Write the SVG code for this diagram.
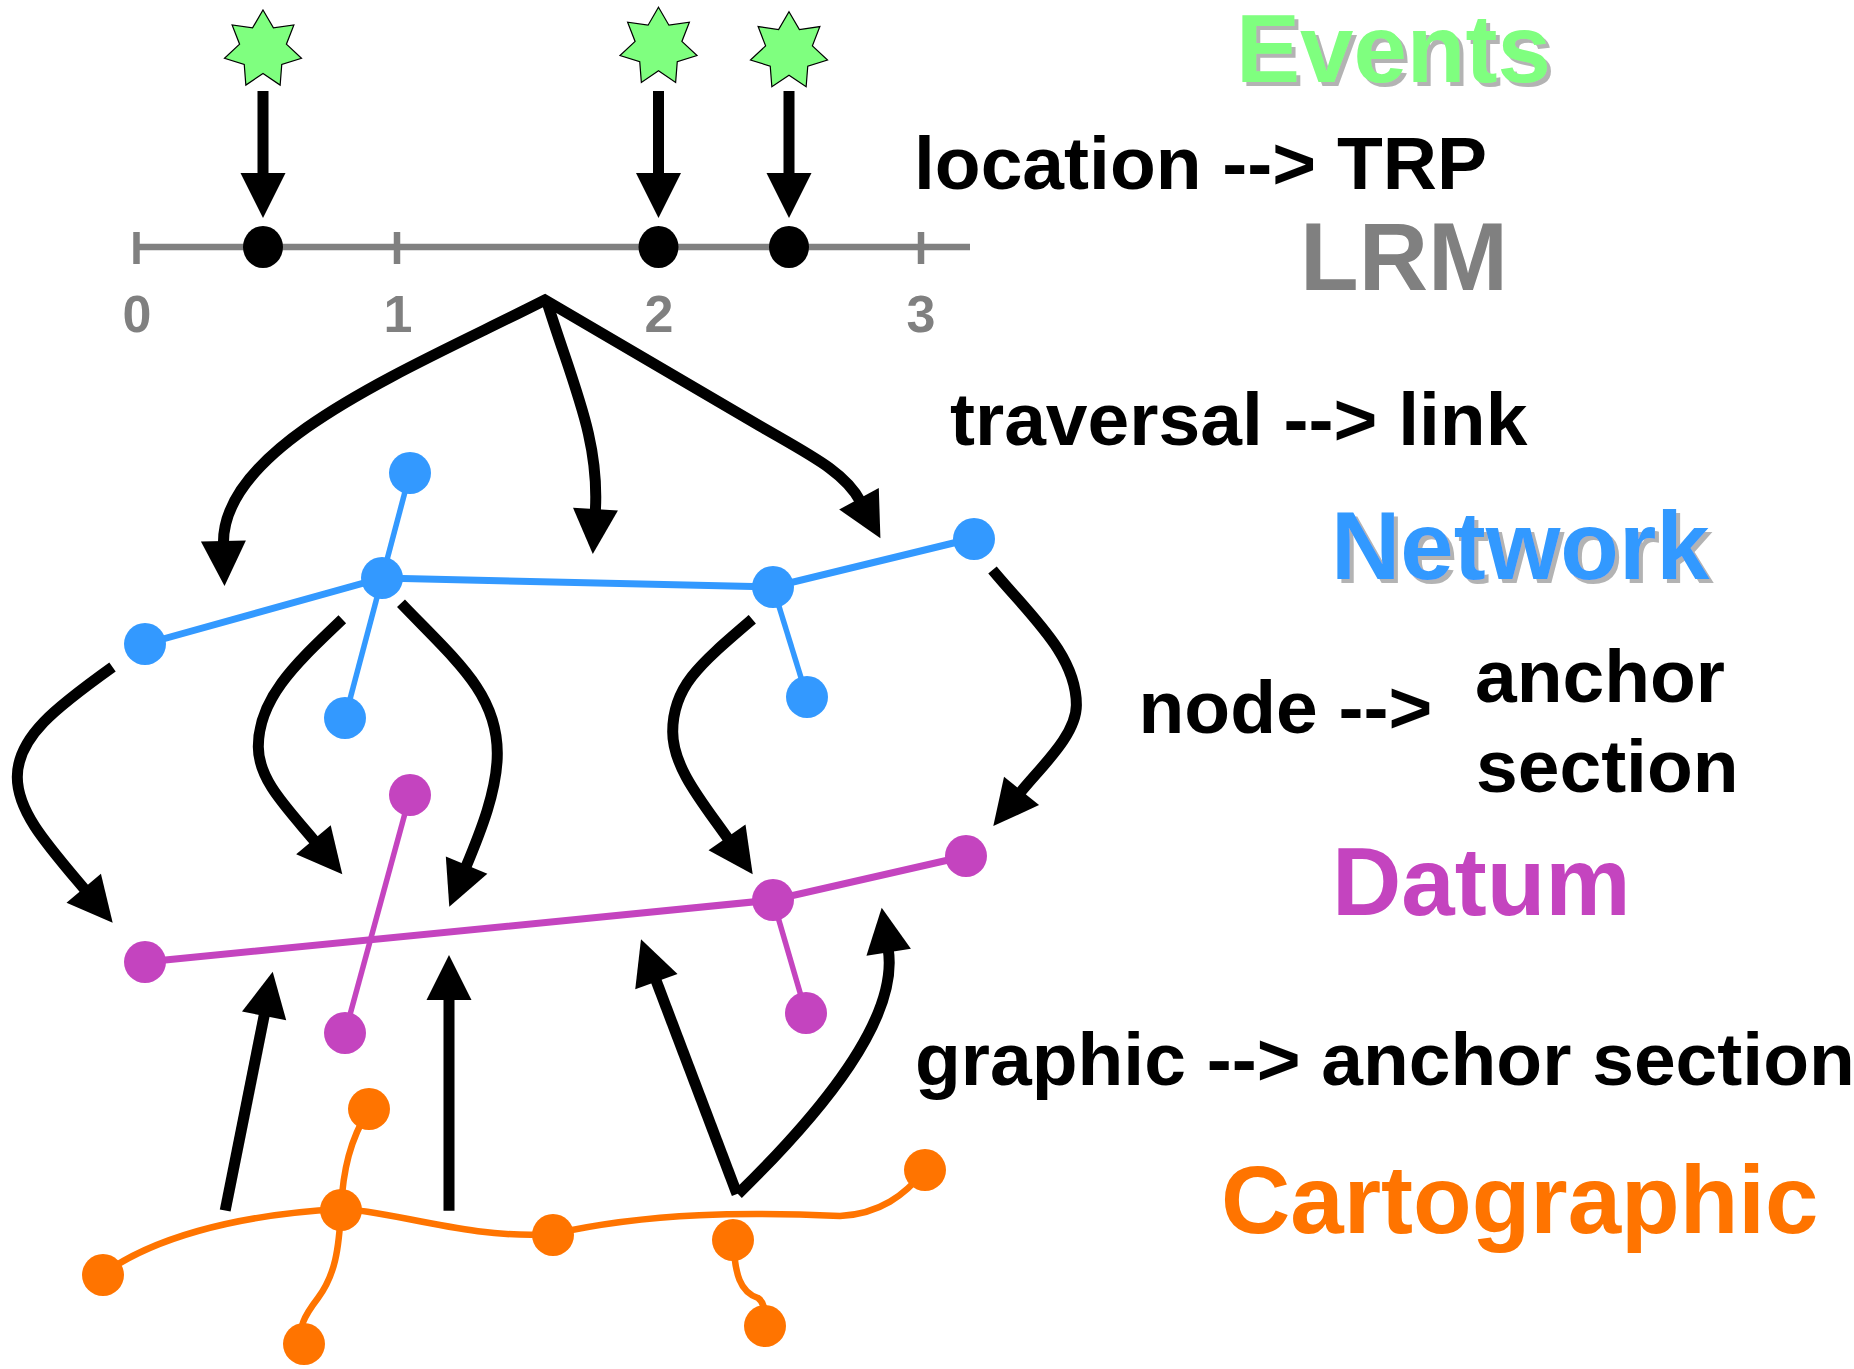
<svg xmlns="http://www.w3.org/2000/svg" width="1854" height="1369" viewBox="0 0 1854 1369">
  <style>
    .lbl { font-family: "Liberation Sans", Arial, sans-serif; font-weight: bold; }
    .t75 { font-size: 75px; fill: #000; }
    .big { font-size: 96px; }
    .num { font-size: 52px; fill: #808080; text-anchor: middle; }
    .conn { fill: none; stroke: #000; stroke-width: 11; stroke-linecap: butt; stroke-linejoin: miter; }
    .head { fill: #000; }
    .axis { stroke: #808080; stroke-width: 6.5; fill: none; }
    .net-main { stroke: #3399FF; stroke-width: 7; fill: none; }
    .net-spur { stroke: #3399FF; stroke-width: 5.5; fill: none; }
    .net-node { fill: #3399FF; }
    .dat-main { stroke: #C444BF; stroke-width: 7; fill: none; }
    .dat-spur { stroke: #C444BF; stroke-width: 5.5; fill: none; }
    .dat-node { fill: #C444BF; }
    .car-line { stroke: #FF7400; stroke-width: 6.5; fill: none; stroke-linecap: round; }
    .car-node { fill: #FF7400; }
    .event { fill: #7FFF7F; stroke: #000; stroke-width: 1.2; }
  </style>
  <defs>
    <!-- seven-pointed event marker -->
    <polygon id="star" points="0,-39.5 10.41,-21.62 30.88,-24.63 23.4,-5.34 38.51,8.79 18.76,14.96 17.14,35.59 0,24 -17.14,35.59 -18.76,14.96 -38.51,8.79 -23.4,-5.34 -30.88,-24.63 -10.41,-21.62"/>
    <!-- arrowhead, tip at origin, pointing along +x -->
    <path id="ah" d="M0,0 L-45,-22.5 L-45,22.5 Z"/>
    <filter id="shadow" x="-5%" y="-10%" width="115%" height="130%">
      <feOffset in="SourceAlpha" dx="4" dy="4" result="off"/>
      <feFlood flood-color="#B3B3B3"/>
      <feComposite in2="off" operator="in" result="sh"/>
      <feMerge><feMergeNode in="sh"/><feMergeNode in="SourceGraphic"/></feMerge>
    </filter>
  </defs>

  <rect width="1854" height="1369" fill="#fff"/>

  <!-- events -->
  <g id="events">
    <use href="#star" class="event" transform="translate(263,49.5)"/>
    <use href="#star" class="event" transform="translate(658.5,46.8)"/>
    <use href="#star" class="event" transform="translate(789,51.2)"/>
  </g>

  <!-- linear referencing axis -->
  <g id="lrm">
    <line class="axis" x1="136.5" y1="247" x2="970" y2="247"/>
    <line class="axis" x1="136.5" y1="232" x2="136.5" y2="264"/>
    <line class="axis" x1="397" y1="232" x2="397" y2="264"/>
    <line class="axis" x1="658.5" y1="232" x2="658.5" y2="264"/>
    <line class="axis" x1="921" y1="232" x2="921" y2="264"/>
    <text class="lbl num" x="137" y="332">0</text>
    <text class="lbl num" x="398" y="332">1</text>
    <text class="lbl num" x="659" y="332">2</text>
    <text class="lbl num" x="921" y="332">3</text>
    <ellipse cx="263" cy="247" rx="20" ry="21"/>
    <ellipse cx="658.5" cy="247" rx="20" ry="21"/>
    <ellipse cx="789" cy="247" rx="20" ry="21"/>
  </g>

  <!-- network layer -->
  <g id="network">
    <polyline class="net-main" points="145,644 382,578 773,587 974,538"/>
    <line class="net-spur" x1="410" y1="473" x2="345" y2="718"/>
    <line class="net-spur" x1="773" y1="587" x2="807" y2="697"/>
    <circle class="net-node" id="n1" cx="145" cy="644" r="21"/>
    <circle class="net-node" id="n2" cx="382" cy="578" r="21"/>
    <circle class="net-node" id="n3" cx="410" cy="473" r="21"/>
    <circle class="net-node" id="n4" cx="345" cy="718" r="21"/>
    <circle class="net-node" id="n5" cx="773" cy="587" r="21"/>
    <circle class="net-node" id="n6" cx="974" cy="539" r="21"/>
    <circle class="net-node" id="n7" cx="807" cy="697" r="21"/>
  </g>

  <!-- datum layer -->
  <g id="datum">
    <polyline class="dat-main" points="145,962 773,900 966,856"/>
    <line class="dat-spur" x1="410" y1="795" x2="345" y2="1033"/>
    <line class="dat-spur" x1="773" y1="900" x2="806" y2="1013"/>
    <circle class="dat-node" id="d1" cx="145" cy="962" r="21"/>
    <circle class="dat-node" id="d2" cx="410" cy="795" r="21"/>
    <circle class="dat-node" id="d3" cx="345" cy="1033" r="21"/>
    <circle class="dat-node" id="d4" cx="773" cy="900" r="21"/>
    <circle class="dat-node" id="d5" cx="966" cy="856" r="21"/>
    <circle class="dat-node" id="d6" cx="806" cy="1013" r="21"/>
  </g>

  <!-- cartographic layer -->
  <g id="cartographic">
    <path class="car-line" d="M103,1274 C150,1240 230,1215 341,1209 C390,1210 470,1240 553,1234 C650,1212 750,1212 840,1216 C880,1214 905,1195 925,1170"/>
    <path class="car-line" d="M369,1109 C350,1140 343,1170 341,1209 C339,1250 335,1275 318,1298 C305,1315 296,1330 304,1344"/>
    <path class="car-line" d="M733,1240 C735,1275 740,1292 758,1298 C764,1302 766,1310 765,1326"/>
    <circle class="car-node" id="c1" cx="103" cy="1275" r="21"/>
    <circle class="car-node" id="c2" cx="341" cy="1210" r="21"/>
    <circle class="car-node" id="c3" cx="369" cy="1109" r="21"/>
    <circle class="car-node" id="c4" cx="304" cy="1344" r="21"/>
    <circle class="car-node" id="c5" cx="553" cy="1235" r="21"/>
    <circle class="car-node" id="c6" cx="733" cy="1240" r="21"/>
    <circle class="car-node" id="c7" cx="765" cy="1326" r="21"/>
    <circle class="car-node" id="c8" cx="925" cy="1170" r="21"/>
  </g>

  <!-- connectors -->
  <g id="connectors">
    <!-- event location to TRP -->
    <line class="conn" x1="263" y1="91" x2="263" y2="178"/>
    <line class="conn" x1="658.5" y1="91" x2="658.5" y2="178"/>
    <line class="conn" x1="789" y1="91" x2="789" y2="178"/>
    <use href="#ah" class="head" transform="translate(263,218) rotate(90)"/>
    <use href="#ah" class="head" transform="translate(658.5,218) rotate(90)"/>
    <use href="#ah" class="head" transform="translate(789,218) rotate(90)"/>

    <!-- traversal to links -->
    <path class="conn" d="M223.5,544 C221,444 411.5,368 545,300 L760,426 C810,455 845,472 860.4,501.4"/>
    <path class="conn" d="M547,302 C574,388 599.7,440 595.3,512"/>
    <use href="#ah" class="head" transform="translate(224.5,586) rotate(88.6)"/>
    <use href="#ah" class="head" transform="translate(592.8,554) rotate(93.4)"/>
    <use href="#ah" class="head" transform="translate(880.4,538.3) rotate(61.6)"/>

    <!-- network node to datum anchor section -->
    <path class="conn" d="M112.5,667 C55.8,707.6 17.3,737 17.3,777 C17.3,812 47.1,844.7 85.7,890.6"/>
    <path class="conn" d="M342.3,619.3 C299,660.7 258.3,696.7 258.3,746.7 C258.3,780 286.6,807.4 315.4,842"/>
    <path class="conn" d="M401,603.3 C456.2,660.9 497.3,693.3 497.3,753.3 C497.3,790 480.9,831 465.5,867.9"/>
    <path class="conn" d="M752.3,619.3 C699.1,664.8 672.7,686.7 672.7,731.7 C672.7,768 703.1,803 728.8,839.9"/>
    <path class="conn" d="M992.5,570 C1030.9,616.2 1076.4,655 1076.4,705 C1076.4,735 1041.7,766.1 1019.7,793.3"/>
    <use href="#ah" class="head" transform="translate(112.7,922.7) rotate(49.9)"/>
    <use href="#ah" class="head" transform="translate(342.3,874.3) rotate(50.1)"/>
    <use href="#ah" class="head" transform="translate(449.3,906.7) rotate(112.6)"/>
    <use href="#ah" class="head" transform="translate(752.7,874.3) rotate(55.2)"/>
    <use href="#ah" class="head" transform="translate(993.3,826) rotate(128.9)"/>

    <!-- cartographic graphic to datum anchor section -->
    <path class="conn" d="M225.2,1210.5 L264.7,1012.9"/>
    <path class="conn" d="M449,1210.7 L449,997"/>
    <path class="conn" d="M737,1194 L655.4,978.8"/>
    <path class="conn" d="M738,1194 C824,1110 899,1018 888.2,949.2"/>
    <use href="#ah" class="head" transform="translate(272.7,971.7) rotate(-79)"/>
    <use href="#ah" class="head" transform="translate(449,955) rotate(-90)"/>
    <use href="#ah" class="head" transform="translate(641,939.3) rotate(-110)"/>
    <use href="#ah" class="head" transform="translate(881.7,907.7) rotate(-98.9)"/>
  </g>

  <!-- labels -->
  <g id="label-events"><text class="lbl big" x="1236" y="82" fill="#7FFF7F" filter="url(#shadow)">Events</text></g>
  <g id="label-location"><text class="lbl t75" x="914" y="189">location --&gt; TRP</text></g>
  <g id="label-lrm"><text class="lbl big" x="1300" y="290" fill="#808080">LRM</text></g>
  <g id="label-traversal"><text class="lbl t75" x="950" y="445">traversal --&gt; link</text></g>
  <g id="label-network"><text class="lbl big" x="1331" y="579" fill="#3399FF" filter="url(#shadow)">Network</text></g>
  <g id="label-node">
    <text class="lbl t75" x="1138.5" y="733">node --&gt;</text>
    <text class="lbl t75" x="1475" y="701.7">anchor</text>
    <text class="lbl t75" x="1476" y="791.7">section</text>
  </g>
  <g id="label-datum"><text class="lbl big" x="1332" y="915" fill="#C444BF">Datum</text></g>
  <g id="label-graphic"><text class="lbl t75" x="915" y="1085">graphic --&gt; anchor section</text></g>
  <g id="label-cartographic"><text class="lbl big" x="1221" y="1233" fill="#FF7400">Cartographic</text></g>
</svg>
